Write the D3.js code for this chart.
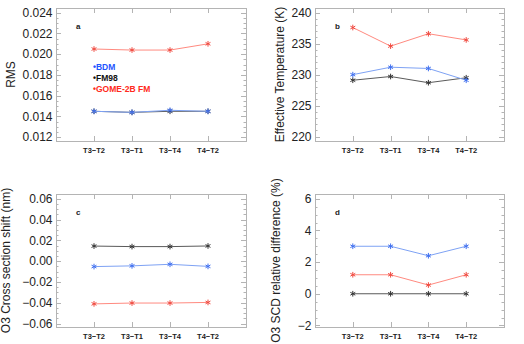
<!DOCTYPE html>
<html>
<head>
<meta charset="utf-8">
<script src="https://cdn.jsdelivr.net/npm/d3@7"></script>
<style>
  body { margin: 0; background: #fff; }
  svg { display: block; font-family: "Liberation Sans", Arial, Helvetica, sans-serif; }
  .border { fill: none; stroke: #b4b4b4; stroke-width: 1; }
  .tick-line { stroke: #b4b4b4; stroke-width: 1; }
  .ylab { font-size: 12px; fill: #222; }
  .xlab { font-size: 7.5px; font-weight: bold; fill: #222; }
  .ytitle { font-size: 12px; fill: #222; }
  .plabel { font-size: 8px; font-weight: bold; fill: #222; }
  .legend { font-size: 8.5px; font-weight: bold; }
</style>
</head>
<body>
<svg width="524" height="344"></svg>
<script>
    // categories on the x axis (IDL style range 0..5, points at 1..4)
    var categories = ["T3\u2212T2", "T3\u2212T1", "T3\u2212T4", "T4\u2212T2"];
    var seriesNames = ["BDM", "FM98", "GOME-2B FM"];

    // panel a - RMS
    var rmsBDM  = [0.0145, 0.0144, 0.0146, 0.0145];
    var rmsFM98 = [0.0145, 0.0144, 0.0145, 0.0145];
    var rmsGOME = [0.0205, 0.0204, 0.0204, 0.0210];
    var rmsTicks = [0.012, 0.014, 0.016, 0.018, 0.020, 0.022, 0.024];
    var rmsDomain = [0.01164, 0.02445];

    // panel b - effective temperature
    var tempBDM  = [230.0, 231.2, 231.0, 229.1];
    var tempFM98 = [229.1, 229.7, 228.7, 229.5];
    var tempGOME = [237.6, 234.6, 236.6, 235.6];
    var tempTicks = [220, 225, 230, 235, 240];
    var tempDomain = [219.3, 240.75];

    // panel c - O3 cross section shift
    var shiftBDM  = [-0.0052, -0.0045, -0.0030, -0.0050];
    var shiftFM98 = [0.0145, 0.0140, 0.0140, 0.0146];
    var shiftGOME = [-0.0410, -0.0402, -0.0402, -0.0396];
    var shiftTicks = [-0.06, -0.04, -0.02, 0.00, 0.02, 0.04, 0.06];
    var shiftDomain = [-0.0632, 0.0645];

    // panel d - O3 SCD relative difference
    var scdBDM  = [3.0, 3.0, 2.4, 3.0];
    var scdFM98 = [0.0, 0.0, 0.0, 0.0];
    var scdGOME = [1.2, 1.2, 0.55, 1.2];
    var scdTicks = [-2, 0, 2, 4, 6];
    var scdDomain = [-2.1, 6.3];

    var lineColors = ["#7ea2f4", "#5a5a5a", "#ff8a80"];
    var markColors = ["#3f6ff0", "#333333", "#f04a40"];
    var textColors = ["#1f55ff", "#111111", "#ff2a20"];

    var panels = [
        { id: "a", title: "RMS", series: [rmsBDM, rmsFM98, rmsGOME], ticks: rmsTicks, domain: rmsDomain,
          fmt: d3.format(".3f"), minor: 4, left: 56, right: 246, top: 8, bottom: 141, titleX: 11 },
        { id: "b", title: "Effective Temperature (K)", series: [tempBDM, tempFM98, tempGOME], ticks: tempTicks, domain: tempDomain,
          fmt: d3.format("d"), minor: 5, left: 315, right: 504, top: 8, bottom: 141, titleX: 280 },
        { id: "c", title: "O3 Cross section shift (nm)", series: [shiftBDM, shiftFM98, shiftGOME], ticks: shiftTicks, domain: shiftDomain,
          fmt: d3.format(".2f"), minor: 4, left: 56, right: 246, top: 194, bottom: 327, titleX: 6 },
        { id: "d", title: "O3 SCD relative difference (%)", series: [scdBDM, scdFM98, scdGOME], ticks: scdTicks, domain: scdDomain,
          fmt: d3.format("d"), minor: 4, left: 315, right: 504, top: 194, bottom: 327, titleX: 276 }
    ];

    var svg = d3.select("svg");
    var asterisk = d3.symbol().type(d3.symbolAsterisk).size(22);

    panels.forEach(function(p) {
        var g = svg.append("g");

        var x = d3.scaleLinear().domain([0, 5]).range([p.left, p.right]);
        var y = d3.scaleLinear().domain(p.domain).range([p.bottom, p.top]);

        g.append("rect")
            .attr("class", "border")
            .attr("x", p.left + 0.5).attr("y", p.top + 0.5)
            .attr("width", p.right - p.left).attr("height", p.bottom - p.top);

        // minor y ticks (left and right, inward)
        var step = p.ticks[1] - p.ticks[0];
        var minorTicks = [];
        for (var i = 0; i < p.ticks.length - 1; i++) {
            for (var j = 1; j < p.minor; j++) {
                minorTicks.push(p.ticks[i] + step * j / p.minor);
            }
        }
        minorTicks.forEach(function(t) {
            var yy = Math.round(y(t)) + 0.5;
            g.append("line").attr("class", "tick-line")
                .attr("x1", p.left).attr("x2", p.left + 2.5).attr("y1", yy).attr("y2", yy);
            g.append("line").attr("class", "tick-line")
                .attr("x1", p.right - 2.5).attr("x2", p.right).attr("y1", yy).attr("y2", yy);
        });

        // major y ticks + labels
        p.ticks.forEach(function(t) {
            var yy = Math.round(y(t)) + 0.5;
            g.append("line").attr("class", "tick-line")
                .attr("x1", p.left).attr("x2", p.left + 5).attr("y1", yy).attr("y2", yy);
            g.append("line").attr("class", "tick-line")
                .attr("x1", p.right - 5).attr("x2", p.right).attr("y1", yy).attr("y2", yy);
            g.append("text").attr("class", "ylab")
                .attr("x", p.left - 3.5).attr("y", y(t))
                .attr("dy", "0.35em")
                .attr("text-anchor", "end")
                .text(p.fmt(t));
        });

        // x ticks at categories (top and bottom)
        categories.forEach(function(c, k) {
            var xx = Math.round(x(k + 1)) + 0.5;
            g.append("line").attr("class", "tick-line")
                .attr("x1", xx).attr("x2", xx).attr("y1", p.bottom).attr("y2", p.bottom - 5);
            g.append("line").attr("class", "tick-line")
                .attr("x1", xx).attr("x2", xx).attr("y1", p.top).attr("y2", p.top + 5);
            g.append("text").attr("class", "xlab")
                .attr("x", x(k + 1)).attr("y", p.bottom + 12)
                .attr("text-anchor", "middle")
                .text(c);
        });

        // y title
        g.append("text").attr("class", "ytitle")
            .attr("transform", "translate(" + p.titleX + "," + ((p.top + p.bottom) / 2) + ") rotate(-90)")
            .attr("text-anchor", "middle")
            .attr("dy", "0.35em")
            .text(p.title);

        // panel letter
        g.append("text").attr("class", "plabel")
            .attr("x", p.left + 20).attr("y", p.top + 21)
            .text(p.id);

        var line = d3.line()
            .x(function(d, k) { return x(k + 1); })
            .y(function(d) { return y(d); });

        // draw order: FM98, GOME, BDM
        [1, 2, 0].forEach(function(s) {
            var data = p.series[s];
            g.append("path")
                .datum(data)
                .attr("fill", "none")
                .attr("stroke", lineColors[s])
                .attr("stroke-width", 1)
                .attr("d", line);

            g.selectAll(null)
                .data(data)
                .enter().append("path")
                .attr("transform", function(d, k) { return "translate(" + x(k + 1) + "," + y(d) + ")"; })
                .attr("d", asterisk)
                .attr("fill", "none")
                .attr("stroke", markColors[s])
                .attr("stroke-width", 1);
        });

        // legend only in panel a
        if (p.id === "a") {
            seriesNames.forEach(function(n, s) {
                g.append("text").attr("class", "legend")
                    .attr("x", x(1) - 1).attr("y", 70 + s * 11)
                    .attr("fill", textColors[s])
                    .text("\u2022" + n);
            });
        }
    });
</script>
</body>
</html>
